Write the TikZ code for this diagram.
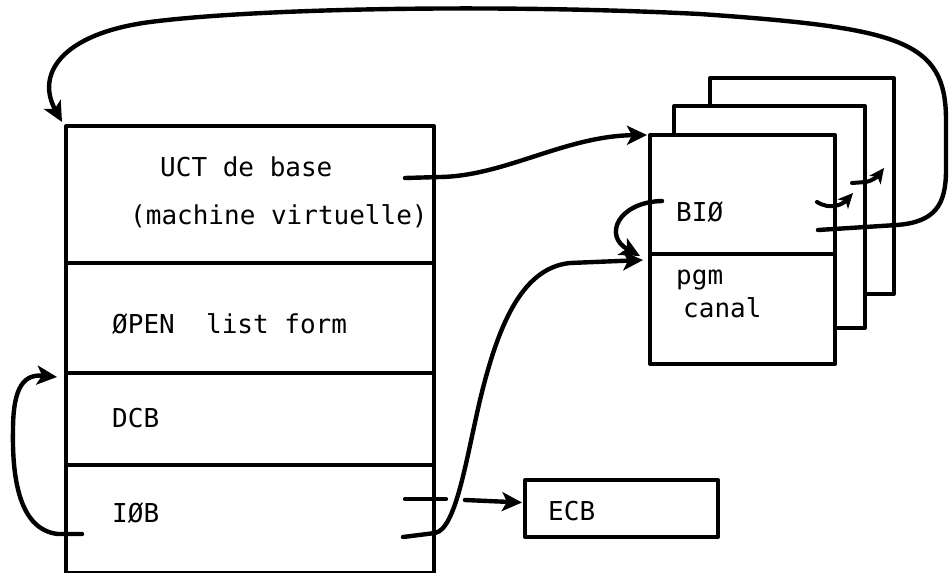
\documentclass[tikz,border=0pt]{standalone}
\usepackage{fontspec}
\setmonofont{DejaVu Sans Mono}
\usetikzlibrary{arrows.meta}
\begin{document}
\begin{tikzpicture}[x=1pt,y=-1pt, line join=round, line cap=round,
  box/.style={draw, line width=4pt, fill=white, inner sep=0pt, anchor=north west},
  lbl/.style={font=\ttfamily\fontsize{26}{29}\selectfont, anchor=base west, inner sep=0pt},
  arr/.style={line width=4.4pt, -{Stealth[length=20pt,width=19pt,inset=5pt]}},
  arrs/.style={line width=4pt, -{Stealth[length=15pt,width=14pt,inset=4pt]}},
  tick/.style={line width=4.2pt}]
\useasboundingbox (0,0) rectangle (951,573);
% left stack
\node[box, minimum width=368pt, minimum height=137pt] (uct) at (64,124) {};
\node[box, minimum width=368pt, minimum height=110pt] (open) at (64,261) {};
\node[box, minimum width=368pt, minimum height=92pt] (dcb) at (64,371) {};
\node[box, minimum width=368pt, minimum height=108pt] (iob) at (64,463) {};
\node[lbl] (t1) at (160,176) {UCT de base};
\node[lbl] (t2) at (130,224) {(machine virtuelle)};
\node[lbl] (t3) at (112,333) {ØPEN\ \ list form};
\node[lbl] (t4) at (112,427) {DCB};
\node[lbl] (t5) at (112,522) {IØB};
% right stacked boxes
\node[box, minimum width=184pt, minimum height=216pt] (back) at (708,76) {};
\node[box, minimum width=191pt, minimum height=222pt] (mid) at (672,104) {};
\node[box, minimum width=185pt, minimum height=119pt] (bio) at (648,133) {};
\node[box, minimum width=185pt, minimum height=110pt] (pgm) at (648,252) {};
\node[lbl] (t6) at (676,221) {BIØ};
\node[lbl] (t7) at (676,284) {pgm};
\node[lbl] (t8) at (683,317) {canal};
% ECB
\node[box, minimum width=193pt, minimum height=57pt] (ecb) at (523,478) {};
\node[lbl] (t9) at (548,520) {ECB};
% coordinates
\coordinate (a1) at (405,178);
\coordinate (a2) at (818,230);
\coordinate (a3) at (817,202);
\coordinate (a4) at (852,183);
\coordinate (a5) at (662,201);
\coordinate (a6) at (403,537);
\coordinate (a7) at (82,534);
% arrows
\draw[arr] (a1) -- (440,177) .. controls (505,176) and (565,136) .. ([xshift=-1pt,yshift=-2pt]bio.north west);
\draw[arr] (a2) -- (897,225) .. controls (935,222) and (946,205) .. (946,170)
   -- (946,120) .. controls (946,40) and (900,28) .. (700,14)
   .. controls (500,4) and (260,8) .. (150,22)
   .. controls (60,34) and (36,75) .. ([xshift=-2pt,yshift=2pt]uct.north west);
\draw[arrs] (a3) .. controls (830,210) and (842,205) .. (853,193);
\draw[arrs] (a4) -- (866,182) .. controls (872,181) and (878,176) .. (884,168);
\draw[arr] (a5) .. controls (618,202) and (603,236) .. ([xshift=-8pt,yshift=-4pt]pgm.north west);
\draw[tick] (405,499) -- (446,499);
\draw[arr] (465,500) -- ([xshift=-1pt,yshift=6pt]ecb.west);
\draw[arr] (a6) -- (435,533) .. controls (456,529) and (466,460) .. (480,400)
   .. controls (497,330) and (520,268) .. (570,263) -- ([xshift=-5pt,yshift=-8pt]pgm.north west);
\draw[arr] (a7) -- (58,534) .. controls (20,530) and (12,480) .. (13,430)
   .. controls (13,385) and (25,374) .. ([xshift=-7pt,yshift=-2pt]open.south west);
\end{tikzpicture}
\end{document}
